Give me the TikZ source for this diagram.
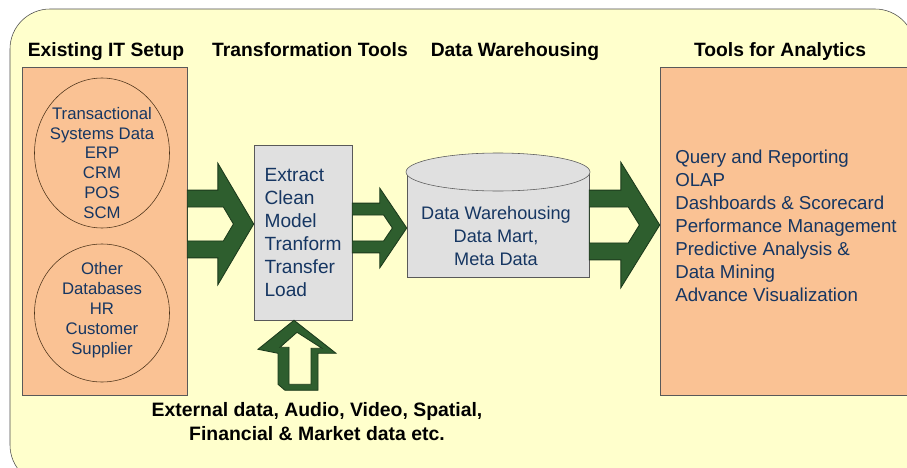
\documentclass[tikz,border=0pt]{standalone}
\usepackage{fontspec}
\setmainfont{Liberation Sans}
\usetikzlibrary{positioning,calc,shapes.geometric}
\definecolor{paleyellow}{RGB}{255,255,204}
\definecolor{peach}{RGB}{250,194,148}
\definecolor{boxgray}{RGB}{224,224,224}
\definecolor{navytext}{RGB}{22,54,98}
\definecolor{arrowgreen}{RGB}{46,94,46}
\definecolor{arrowedge}{RGB}{28,58,28}
\def\px{0.025cm}
\def\pxl{0.70866pt}

% hollow block arrow: from node, to node, y, head length, shaft half, head half, band
\newcommand{\chevron}[7]{%
\path[fill=arrowgreen, draw=arrowedge, line width=0.6pt, even odd rule]
 let \p1=(#1.east |- 0,#3), \p2=(#2.west |- 0,#3),
 \n1={\x2-#4*\pxl}, \n2={\x2-1.2*#7*\pxl}, \n3={\x2-1.2*#7*\pxl-#4/#6*(#5-#7)*\pxl} in
 (\x1,{\y1+#5*\pxl}) -- (\n1,{\y1+#5*\pxl}) -- (\n1,{\y1+#6*\pxl}) -- (\x2,\y1)
 -- (\n1,{\y1-#6*\pxl}) -- (\n1,{\y1-#5*\pxl}) -- (\x1,{\y1-#5*\pxl}) -- cycle
 (\x1,{\y1+(#5-#7)*\pxl}) -- (\n3,{\y1+(#5-#7)*\pxl}) -- (\n2,\y1)
 -- (\n3,{\y1-(#5-#7)*\pxl}) -- (\x1,{\y1-(#5-#7)*\pxl}) -- cycle;}

\begin{document}
\begin{tikzpicture}[x=0.025cm, y=-0.025cm,
header/.style={anchor=base, font=\bfseries\fontsize{13.7}{16}\selectfont},
panel/.style={rectangle, draw=gray!70!black, fill=peach, minimum width=#1*\px, minimum height=328*\px},
db/.style={ellipse, draw=brown!40!black, minimum width=135*\px, minimum height=#1*\px, inner sep=0pt},
bluetext/.style={text=navytext, align=center, font=\fontsize{11.9}{14.2}\selectfont},
graybox/.style={rectangle, draw=gray!70!black, fill=boxgray},
etlbox/.style={graybox, minimum width=98*\px, minimum height=175*\px, text=navytext, align=left, font=\fontsize{13.6}{16.3}\selectfont}]

\useasboundingbox (0,0) rectangle (907,467);
\clip (0,0) rectangle (907,467);
\draw[fill=paleyellow, draw=gray!60!black, rounded corners=1cm] (10,9) rectangle (915,485);

\node[header] (h1) at (106,56) {Existing IT Setup};
\node[header] (h2) at (310,56) {Transformation Tools};
\node[header] (h3) at (515,56) {Data Warehousing};
\node[header] (h4) at (780,56) {Tools for Analytics};

\node[panel=165] (setup) at (104.5,231) {};
\node[db=150] (trans) at (102,153) {};
\node[db=138] (other) at (102,313) {};
\node[bluetext] (transtxt) at (102,163) {Transactional\\Systems Data\\ERP\\CRM\\POS\\SCM};
\node[bluetext] (othertxt) at (102,310) {Other\\Databases\\HR\\Customer\\Supplier};

\node[etlbox] (etl) at (303,232.5) {Extract\\Clean\\Model\\Tranform\\Transfer\\Load};

\node[graybox, minimum width=182*\px, minimum height=105*\px] (dw) at (498,224.5) {};
\node[graybox, ellipse, minimum width=184*\px, minimum height=38*\px] (dwtop) at (498,172) {};
\node[bluetext, font=\fontsize{12.9}{16.3}\selectfont] (dwtxt) at (496,236) {Data Warehousing\\Data Mart,\\Meta Data};

\node[panel=270] (tools) at (795,231) {};
\node[bluetext, align=left, anchor=west, inner sep=0pt, font=\fontsize{13.3}{16.3}\selectfont] (toolstxt) at (675,226)
 {Query and Reporting\\OLAP\\Dashboards \& Scorecard\\Performance Management\\Predictive Analysis \&\\Data Mining\\Advance Visualization};

\chevron{setup}{etl}{224}{36}{34}{61}{17}
\chevron{etl}{dw}{228}{27}{25}{40}{12}
\chevron{dw}{tools}{225}{39}{35}{63}{17}

\begin{scope}[shift={(etl.south)}]
\fill[arrowgreen, draw=arrowedge, line width=0.6pt, even odd rule]
 (-9,0) -- (33,33) -- (15,33) -- (15,70) -- (-18,70) -- (-25,64) -- (-25,33) -- (-45,29) -- cycle
 (-6,12) -- (19,28) -- (8,28) -- (8,64) -- (-14,64) -- (-14,27) -- (-23,27) -- cycle;
\end{scope}

\node[align=center, font=\bfseries\fontsize{13.8}{17}\selectfont] (ext) at (317,422)
 {External data, Audio, Video, Spatial,\\Financial \& Market data etc.};
\end{tikzpicture}
\end{document}
